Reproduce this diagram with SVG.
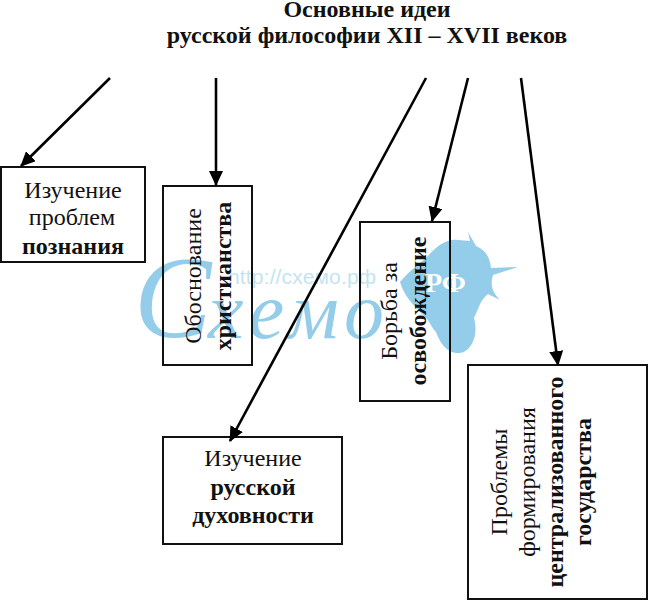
<svg xmlns="http://www.w3.org/2000/svg" width="648" height="600" viewBox="0 0 648 600">
<style>
text{font-family:"Liberation Serif","Times New Roman",serif;fill:#111;font-size:24px;text-anchor:middle}
.b{font-weight:bold}
.box{fill:none;stroke:#111;stroke-width:2}
.c{stroke:#000;stroke-width:2.6;fill:none;marker-end:url(#a)}
#watermark text{fill:#93cde9}
</style>
<defs><marker id="a" markerUnits="userSpaceOnUse" markerWidth="16" markerHeight="14" refX="14" refY="7" orient="auto"><path d="M0 0L15 7L0 14z" fill="#000"/></marker></defs>
<rect width="648" height="600" fill="#fff"/>
<g id="watermark">
<path d="M400 282C410 270 420 264 428 256C436 246 448 238 458 240L470 241L468 232L476 246C486 250 490 258 491 268L518 267L493 275C490 284 492 292 500 300L488 294C480 300 478 310 474 318C478 332 474 350 460 353C446 354 440 342 436 332C430 326 430 320 422 314C414 306 404 296 400 282Z" fill="#93cde9"/>
<text x="425" y="292" style="font-size:28px;font-weight:bold;fill:#fff;text-anchor:start">РФ</text>
<text x="228" y="284" style="font-size:21px;opacity:.55;font-family:'Liberation Sans',sans-serif;text-anchor:start" textLength="148">http://схемо.рф</text>
<text x="134" y="337" style="font-size:116px;font-style:italic;text-anchor:start">С</text>
<text x="208" y="338" style="font-size:80px;font-style:italic;text-anchor:start" textLength="176">хемо</text>
</g>
<g id="title"><text class="b" x="367" y="17">Основные идеи</text><text class="b" x="367" y="43">русской философии XII – XVII веков</text></g>
<g id="n1"><rect class="box" x="1" y="167" width="144" height="95"/><text x="73" y="198">Изучение</text><text x="72" y="225">проблем</text><text class="b" x="73" y="254">познания</text></g>
<g id="n2"><rect class="box" x="163" y="186" width="89" height="179"/><text transform="translate(201 276) rotate(-90)">Обоснование</text><text class="b" transform="translate(231 276) rotate(-90)">христианства</text></g>
<g id="n3"><rect class="box" x="360" y="222" width="90" height="179"/><text transform="translate(397 311) rotate(-90)">Борьба за</text><text class="b" transform="translate(426 311) rotate(-90)">освобождение</text></g>
<g id="n4"><rect class="box" x="163" y="437" width="179" height="107"/><text x="253" y="466">Изучение</text><text class="b" x="253" y="495">русской</text><text class="b" x="253" y="523">духовности</text></g>
<g id="n5"><rect class="box" x="468" y="365" width="179" height="234"/><text transform="translate(507 482) rotate(-90)">Проблемы</text><text transform="translate(535 482) rotate(-90)">формирования</text><text class="b" transform="translate(563 482) rotate(-90)">централизованного</text><text class="b" transform="translate(591 482) rotate(-90)">государства</text></g>
<g id="connectors"><path class="c" d="M110 78L21 166"/><path class="c" d="M216 78V185"/><path class="c" d="M468 78L432 221"/><path class="c" d="M426 78L230 441"/><path class="c" d="M521 78L558 365"/></g>
</svg>
